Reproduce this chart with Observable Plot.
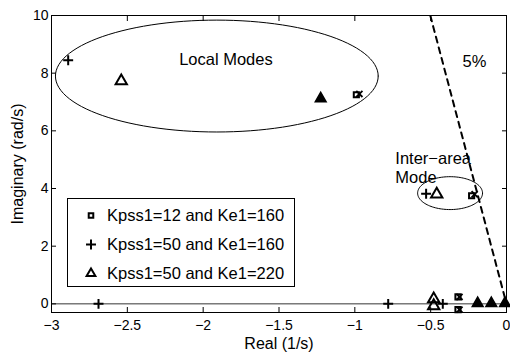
<!DOCTYPE html>
<html><head><meta charset="utf-8">
<script src="https://cdn.jsdelivr.net/npm/d3@7"></script>
<script src="https://cdn.jsdelivr.net/npm/@observablehq/plot@0.6"></script>
<style>
body{margin:0;background:#fff;}
#chart{position:relative;width:510px;height:352px;font-family:"Liberation Sans",Arial,sans-serif;}
#chart svg.plot{position:absolute;left:0;top:0;}
#legend{position:absolute;left:67px;top:198px;width:226px;height:87px;border:1px solid #000;background:#fff;}
.row{position:absolute;left:0;height:22px;display:flex;align-items:center;font-size:16.5px;color:#000;}
.row svg{margin-left:16px;margin-right:9px;}
</style></head><body><div id="chart"></div>
<script>
const xTicks = [-3, -2.5, -2, -1.5, -1, -0.5, 0];
const yTicks = [0, 2, 4, 6, 8, 10];
const seriesNames = ["Kpss1=12 and Ke1=160", "Kpss1=50 and Ke1=160", "Kpss1=50 and Ke1=220"];

// Kpss1=12 and Ke1=160 (squares)
const sqRe = [-0.99, -0.23, -0.32, -0.32];
const sqIm = [7.25, 3.75, 0.24, -0.2];
// unlabeled crosses overlapping the squares
const xRe = [-0.97, -0.21, -0.31, -0.31];
const xIm = [7.28, 3.8, 0.24, -0.2];
// Kpss1=50 and Ke1=160 (plus)
const plRe = [-2.89, -0.53, -2.69, -0.78, -0.42];
const plIm = [8.45, 3.82, 0, 0, 0];
// Kpss1=50 and Ke1=220 (open triangles)
const trRe = [-2.54, -0.46, -0.48, -0.48];
const trIm = [7.73, 3.8, 0.17, -0.07];
// unlabeled filled triangles
const ftRe = [-1.225, -0.19, -0.1, -0.01];
const ftIm = [7.12, 0.02, 0.02, 0.02];

// annotation ellipses (center, radii in data units)
const ellCx = [-1.91, -0.372];
const ellCy = [7.9, 3.84];
const ellRx = [1.064, 0.214];
const ellRy = [1.94, 0.57];

// 5% damping line endpoints
const dampRe = [-0.5025, 0];
const dampIm = [10, 0];

const annText = ["Local Modes", "5%", "Inter\u2212area", "Mode"];
const annRe = [-1.85, -0.29, -0.733, -0.733];
const annIm = [8.48, 8.4, 5.03, 4.37];
const annAnchor = ["middle", "start", "start", "start"];

const pts = (re, im) => re.map((x, i) => ({x, y: im[i]}));
const ellipsePts = ellCx.flatMap((cx, k) =>
  d3.range(0, 361, 3).map(a => ({id: k, x: cx + ellRx[k] * Math.cos(a * Math.PI / 180), y: ellCy[k] + ellRy[k] * Math.sin(a * Math.PI / 180)})));
const damp = pts(dampRe, dampIm);
const ann = annText.map((t, i) => ({t, x: annRe[i], y: annIm[i], a: annAnchor[i]}));

const fmt = d => String(d).replace("-", "\u2212");
const blank = () => "";
const font = '"Liberation Sans", Arial, sans-serif';

const plot = Plot.plot({
  width: 510, height: 352,
  marginLeft: 51, marginRight: 4, marginTop: 15, marginBottom: 40,
  x: {domain: [-3, 0]},
  y: {domain: [-0.3, 10]},
  style: {fontFamily: font, fontSize: "14px", color: "#000", background: "transparent"},
  marks: [
    Plot.ruleY([0], {stroke: "#000", strokeWidth: 0.8}),
    Plot.line(ellipsePts, {x: "x", y: "y", z: "id", stroke: "#000", strokeWidth: 1, clip: true}),
    Plot.line(damp, {x: "x", y: "y", stroke: "#000", strokeWidth: 2, strokeDasharray: "6,5", clip: true}),
    Plot.dot(pts(sqRe, sqIm), {x: "x", y: "y", symbol: "square", r: 2.9, stroke: "#000", strokeWidth: 2}),
    Plot.dot(pts(xRe, xIm), {x: "x", y: "y", symbol: "times", r: 2.9, stroke: "#000", strokeWidth: 1.8}),
    Plot.dot(pts(plRe, plIm), {x: "x", y: "y", symbol: "plus", r: 3.3, stroke: "#000", strokeWidth: 2}),
    Plot.dot(pts(trRe, trIm), {x: "x", y: "y", symbol: "triangle", r: 4.2, stroke: "#000", strokeWidth: 2}),
    Plot.dot(pts(ftRe, ftIm), {x: "x", y: "y", symbol: "triangle", r: 4.0, stroke: "#000", fill: "#000", strokeWidth: 1.5}),
    Plot.text(ann, {x: "x", y: "y", text: "t", textAnchor: "start", fontSize: 16.5, filter: d => d.a === "start"}),
    Plot.text(ann, {x: "x", y: "y", text: "t", textAnchor: "middle", fontSize: 16.5, filter: d => d.a === "middle"}),
    Plot.frame({stroke: "#000", strokeWidth: 1}),
    Plot.axisX({ticks: xTicks, anchor: "bottom", tickSize: 0, tickPadding: 8, tickFormat: fmt, fontSize: 14,
      label: "Real (1/s)", labelAnchor: "center", labelOffset: 36, labelArrow: "none"}),
    Plot.axisX({ticks: xTicks, anchor: "bottom", tickSize: -5, tickFormat: blank, label: null}),
    Plot.axisX({ticks: xTicks, anchor: "top", tickSize: -5, tickFormat: blank, label: null}),
    Plot.axisY({ticks: yTicks, anchor: "left", tickSize: 0, tickPadding: 3, tickFormat: fmt, fontSize: 14,
      label: "Imaginary (rad/s)", labelAnchor: "center", labelOffset: 40, labelArrow: "none"}),
    Plot.axisY({ticks: yTicks, anchor: "left", tickSize: -5, tickFormat: blank, label: null}),
    Plot.axisY({ticks: yTicks, anchor: "right", tickSize: -5, tickFormat: blank, label: null})
  ]
});
plot.querySelectorAll("[aria-label$='axis label']").forEach(g => g.setAttribute("font-size", "16"));
const chart = document.getElementById("chart");
chart.appendChild(plot);

const legend = document.createElement("div");
legend.id = "legend";
const legSymbols = [d3.symbolSquare2, d3.symbolPlus, d3.symbolTriangle2];
const legR = [2.9, 3.3, 4.2];
seriesNames.forEach((name, i) => {
  const row = document.createElement("div");
  row.className = "row";
  row.style.top = (5 + i * 29) + "px";
  const s = d3.create("svg").attr("width", 14).attr("height", 14);
  s.append("path").attr("transform", "translate(7,7.5)")
    .attr("d", d3.symbol(legSymbols[i], Math.PI * legR[i] * legR[i])())
    .attr("fill", "none").attr("stroke", "#000").attr("stroke-width", 2);
  row.appendChild(s.node());
  const span = document.createElement("span");
  span.textContent = name;
  row.appendChild(span);
  legend.appendChild(row);
});
chart.appendChild(legend);
</script></body></html>
